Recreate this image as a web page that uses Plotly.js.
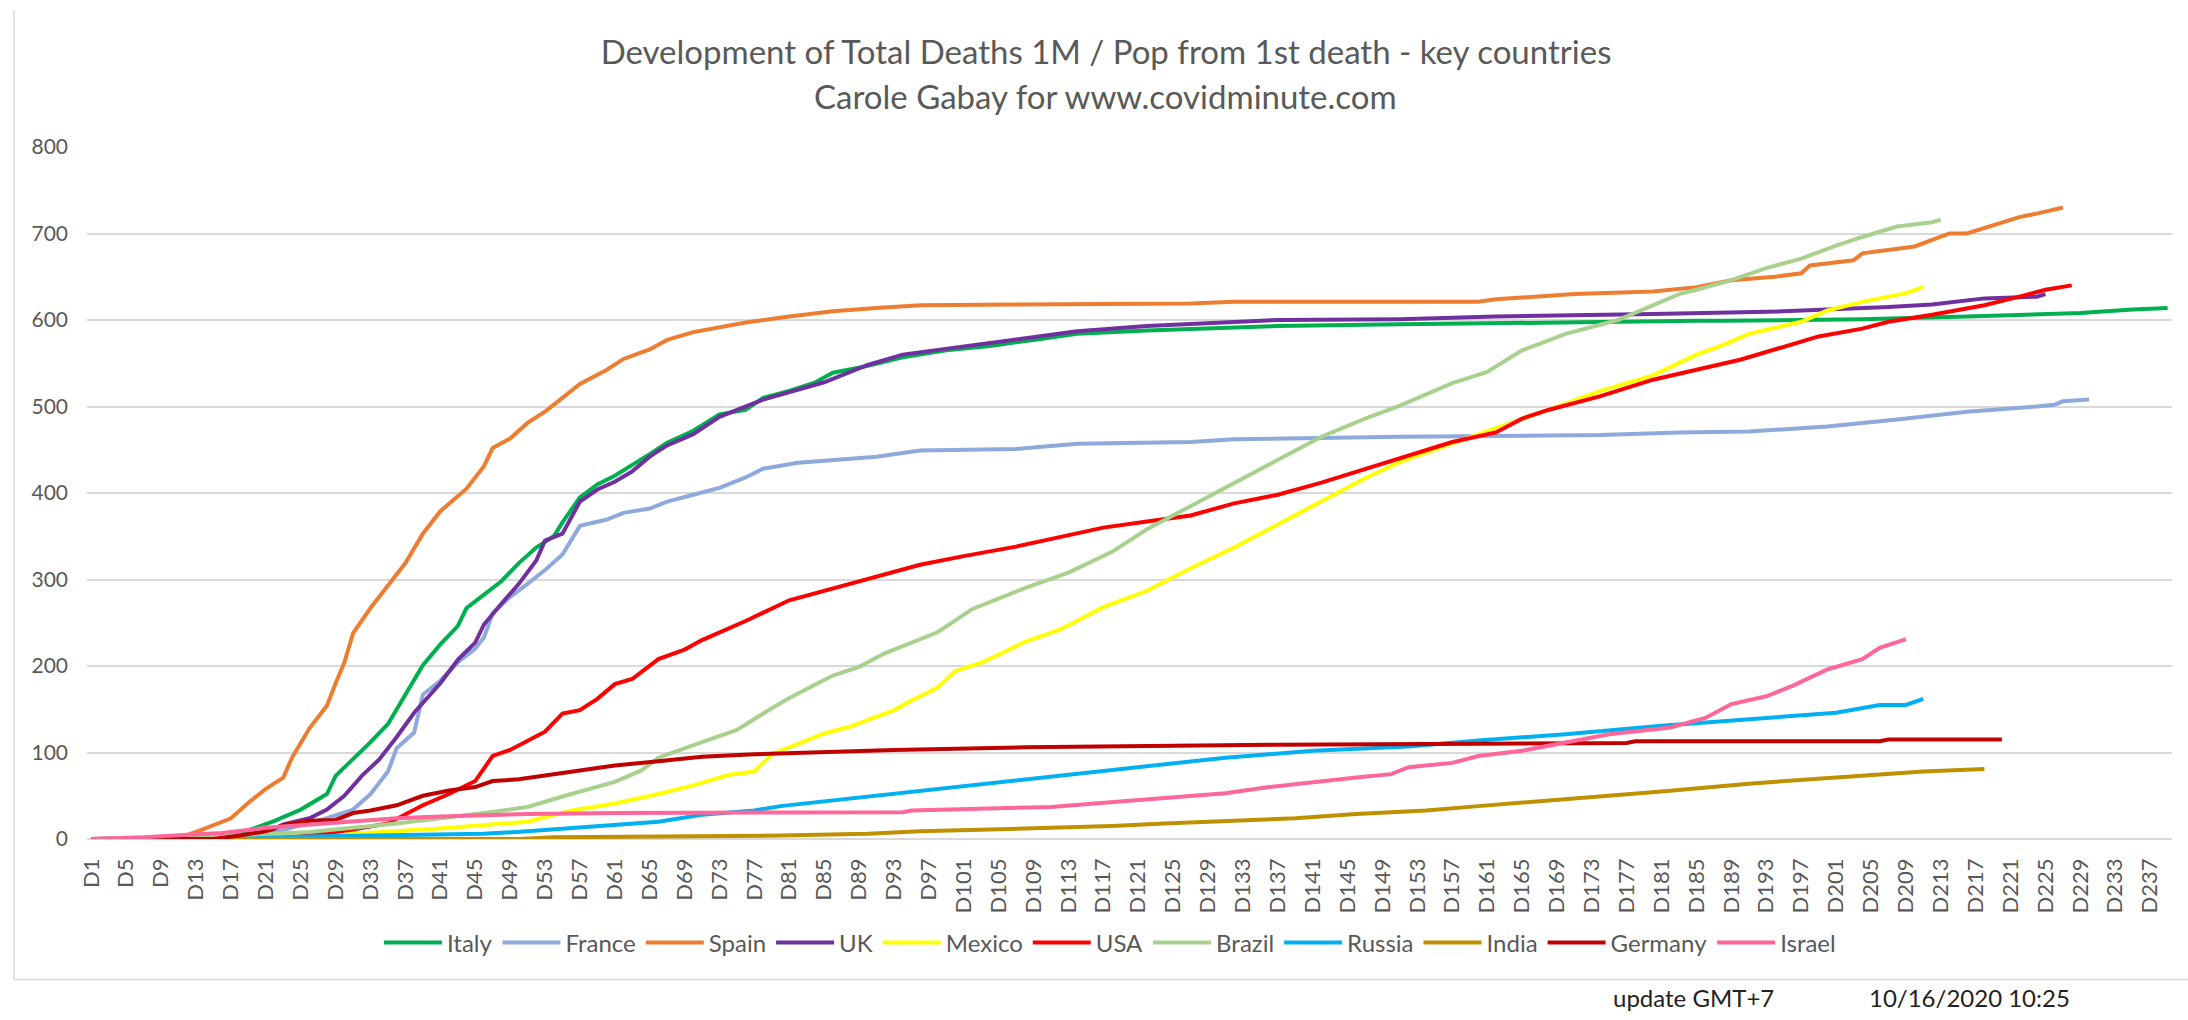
<!DOCTYPE html>
<html><head><meta charset="utf-8">
<script src="https://cdn.plot.ly/plotly-3.0.1.min.js"></script>
<style>html,body{margin:0;padding:0;background:#fff}#chart{width:2188px;height:1020px}</style>
</head><body><div id="chart"></div>
<script>
const countries = ['Italy','France','Spain','UK','Mexico','USA','Brazil','Russia','India','Germany','Israel'];
const lineColors = ['#00B050','#8EA9DB','#ED7D31','#7030A0','#FFFF00','#FF0000','#A9D18E','#00B0F0','#BF9000','#C00000','#FF6699'];

const italyDays = [1,17,19,22,25,28,29,31,33,35,37,39,41,43,44,46,48,50,52,54,55,57,59,61,63,65,67,70,73,76,78,81,84,86,90,94,99,104,109,114,122,130,137,151,165,185,188,204,216,224,229,235,239];
const italyVals = [0,2,10,21,34,52,73,92,112,133,167,201,225,246,267,282,298,319,337,350,366,395,410,420,432,445,458,472,491,496,510,518,528,539,547,557,565,570,577,584,588,591,593,595,597,599,599,601,604,607,608,612,614];

const franceDays = [1,20,25,28,31,33,35,36,38,39,41,43,45,46,47,49,51,53,55,57,60,62,65,67,70,73,76,78,82,86,91,96,107,114,127,132,151,174,183,191,200,208,216,224,226,227,230];
const franceVals = [0,2,16,24,34,52,78,105,123,167,183,204,220,233,261,280,295,311,329,362,369,377,382,390,398,406,418,428,435,438,442,449,451,457,459,462,465,467,470,471,477,485,494,500,502,506,508];

const spainDays = [1,11,14,17,19,21,23,24,26,28,29,30,31,33,35,37,39,41,44,46,47,49,51,53,55,57,60,62,65,67,70,76,81,86,91,96,107,127,132,160,162,171,180,185,189,194,197,198,203,204,210,214,216,220,222,224,227];
const spainVals = [0,1,12,24,42,58,71,94,128,154,180,204,238,267,293,319,353,379,405,431,452,463,481,494,510,526,542,555,566,577,586,597,604,610,614,617,618,619,621,621,624,630,633,638,646,650,654,663,669,677,685,700,700,713,719,723,730];

const ukDays = [1,20,23,26,28,30,32,34,36,38,41,43,45,46,48,50,52,53,55,57,59,61,63,65,67,70,73,78,85,90,94,99,104,109,114,122,130,137,151,162,180,185,195,207,212,218,224,225];
const ukVals = [0,2,17,24,34,50,73,92,118,146,180,207,227,248,272,295,322,345,353,390,404,413,425,442,455,468,488,508,528,548,560,567,574,580,587,593,597,600,601,604,607,608,610,615,618,625,627,630];

const mexicoDays = [1,23,31,41,51,56,61,66,70,74,77,79,81,85,88,90,93,95,98,100,103,105,108,112,117,122,127,132,137,142,147,151,157,162,168,174,180,185,188,191,197,200,204,209,211];
const mexicoVals = [0,2,6,12,20,33,41,52,62,74,78,98,106,122,130,138,149,160,175,194,204,213,228,242,268,287,313,337,364,390,417,436,457,475,496,518,536,560,571,584,598,611,621,631,638];

const usaDays = [1,22,26,31,35,37,39,42,45,47,49,53,55,57,59,61,63,66,69,71,76,81,86,91,96,101,107,112,117,122,127,132,137,142,147,151,157,162,165,168,174,180,185,190,193,199,204,207,212,218,222,225,228];
const usaVals = [0,0,4,11,18,28,39,52,67,96,103,124,145,149,162,179,185,208,219,230,252,276,290,303,317,327,338,349,360,367,374,388,398,412,428,440,459,470,486,496,512,531,542,554,563,581,590,598,606,617,627,635,640];

const brazilDays = [1,20,26,36,46,51,56,61,64,66,71,75,78,81,86,89,92,98,102,108,113,118,122,127,132,137,142,147,151,157,161,165,170,176,180,183,185,189,193,197,201,204,208,212,213];
const brazilVals = [0,5,8,18,30,37,52,66,79,94,112,126,145,163,189,199,215,239,266,290,308,332,358,385,411,438,465,486,501,527,540,565,584,600,617,630,635,646,660,671,686,696,708,713,716];

const russiaDays = [1,17,26,36,46,51,56,61,66,71,77,80,90,100,111,121,131,141,152,160,170,181,191,201,206,209,211];
const russiaVals = [0,0,3,5,6,9,13,16,20,28,33,38,49,61,73,83,94,102,107,114,121,131,138,146,155,155,162];

const indiaDays = [1,50,54,77,80,90,96,104,112,118,124,131,139,146,154,160,170,181,191,201,211,218];
const indiaVals = [0,0,2,3,4,6,9,11,13,15,18,21,24,29,33,38,46,55,64,71,78,81];

const germanyDays = [1,15,18,21,23,26,29,31,33,36,39,42,45,47,50,54,57,61,66,71,77,80,85,93,108,137,160,177,178,206,207,220];
const germanyVals = [0,0,4,9,16,21,22,30,33,39,50,56,60,67,69,75,79,85,90,95,98,99,101,103,106,109,110,111,113,113,115,115];

const israelDays = [1,7,12,16,21,26,31,36,41,51,61,80,94,95,106,111,116,121,126,131,136,141,146,150,152,157,160,165,170,175,182,186,189,193,196,200,204,206,209];
const israelVals = [0,2,5,7,13,17,21,24,26,29,30,31,31,33,35,37,41,45,49,53,60,66,71,75,83,88,96,102,111,121,129,140,156,165,177,196,208,221,231];

const tickDays = [1,5,9,13,17,21,25,29,33,37,41,45,49,53,57,61,65,69,73,77,81,85,89,93,97,101,105,109,113,117,121,125,129,133,137,141,145,149,153,157,161,165,169,173,177,181,185,189,193,197,201,205,209,213,217,221,225,229,233,237];
const tickLabels = ['D1','D5','D9','D13','D17','D21','D25','D29','D33','D37','D41','D45','D49','D53','D57','D61','D65','D69','D73','D77','D81','D85','D89','D93','D97','D101','D105','D109','D113','D117','D121','D125','D129','D133','D137','D141','D145','D149','D153','D157','D161','D165','D169','D173','D177','D181','D185','D189','D193','D197','D201','D205','D209','D213','D217','D221','D225','D229','D233','D237'];

const seriesDays = [italyDays,franceDays,spainDays,ukDays,mexicoDays,usaDays,brazilDays,russiaDays,indiaDays,germanyDays,israelDays];
const seriesVals = [italyVals,franceVals,spainVals,ukVals,mexicoVals,usaVals,brazilVals,russiaVals,indiaVals,germanyVals,israelVals];

const FONT = 'Lato, "Open Sans", sans-serif';
const GREY = '#595959';

const traces = countries.map((name, i) => ({
  type: 'scatter', mode: 'lines', name: name,
  x: seriesDays[i], y: seriesVals[i],
  line: {color: lineColors[i], width: 4},
  hoverinfo: 'x+y+name'
}));

const layout = {
  width: 2188, height: 1020,
  margin: {l: 87, r: 16, t: 147, b: 181},
  paper_bgcolor: '#ffffff', plot_bgcolor: '#ffffff',
  font: {family: FONT, color: GREY, size: 20},
  title: {
    text: 'Development of Total Deaths 1M / Pop from 1st death - key countries',
    font: {family: FONT, size: 33, color: GREY},
    xref: 'container', x: 0.5055, xanchor: 'center',
    yref: 'container', y: 1 - 52/1020, yanchor: 'middle'
  },
  xaxis: {
    type: 'linear', range: [0.5, 239.5],
    tickmode: 'array', tickvals: tickDays, ticktext: tickLabels,
    tickangle: -90, showgrid: false, zeroline: false, showline: false,
    ticks: '', ticklabelstandoff: 14,
    tickfont: {family: FONT, size: 22, color: GREY},
    fixedrange: true
  },
  yaxis: {
    range: [0, 800], dtick: 100, tick0: 0,
    showgrid: true, gridcolor: '#D9D9D9', gridwidth: 1.5,
    zeroline: true, zerolinecolor: '#D9D9D9', zerolinewidth: 1.5,
    showline: false, ticks: '', ticklabelstandoff: 18,
    tickfont: {family: FONT, size: 21, color: GREY},
    fixedrange: true
  },
  showlegend: true,
  legend: {
    orientation: 'h', xref: 'paper', x: 0.4906, xanchor: 'center',
    yref: 'paper', y: -0.150, yanchor: 'middle',
    font: {family: FONT, size: 24, color: GREY},
    bgcolor: 'rgba(0,0,0,0)', itemwidth: 58
  },
  annotations: [
    {text: 'Carole Gabay for www.covidminute.com', xref: 'paper', yref: 'paper',
     x: 0.4887, y: (839 - 96) / 692, xanchor: 'center', yanchor: 'middle', showarrow: false,
     font: {family: FONT, size: 33, color: GREY}},
    {text: 'update GMT+7', xref: 'paper', yref: 'paper',
     x: 0.7703, y: (839 - 997) / 692, xanchor: 'center', yanchor: 'middle', showarrow: false,
     font: {family: FONT, size: 24, color: '#222222'}},
    {text: '10/16/2020 10:25', xref: 'paper', yref: 'paper',
     x: 0.9031, y: (839 - 997) / 692, xanchor: 'center', yanchor: 'middle', showarrow: false,
     font: {family: FONT, size: 24, color: '#222222'}}
  ],
  shapes: [
    {type: 'line', xref: 'paper', yref: 'paper', x0: -0.035, x1: -0.035, y0: (839 - 10) / 692, y1: (839 - 979.5) / 692,
     line: {color: '#D9D9D9', width: 1.5}},
    {type: 'line', xref: 'paper', yref: 'paper', x0: -0.035, x1: 1.01, y0: (839 - 979.5) / 692, y1: (839 - 979.5) / 692,
     line: {color: '#D9D9D9', width: 1.5}}
  ]
};

Plotly.newPlot('chart', traces, layout, {displayModeBar: false, responsive: false});
</script>
</body></html>
